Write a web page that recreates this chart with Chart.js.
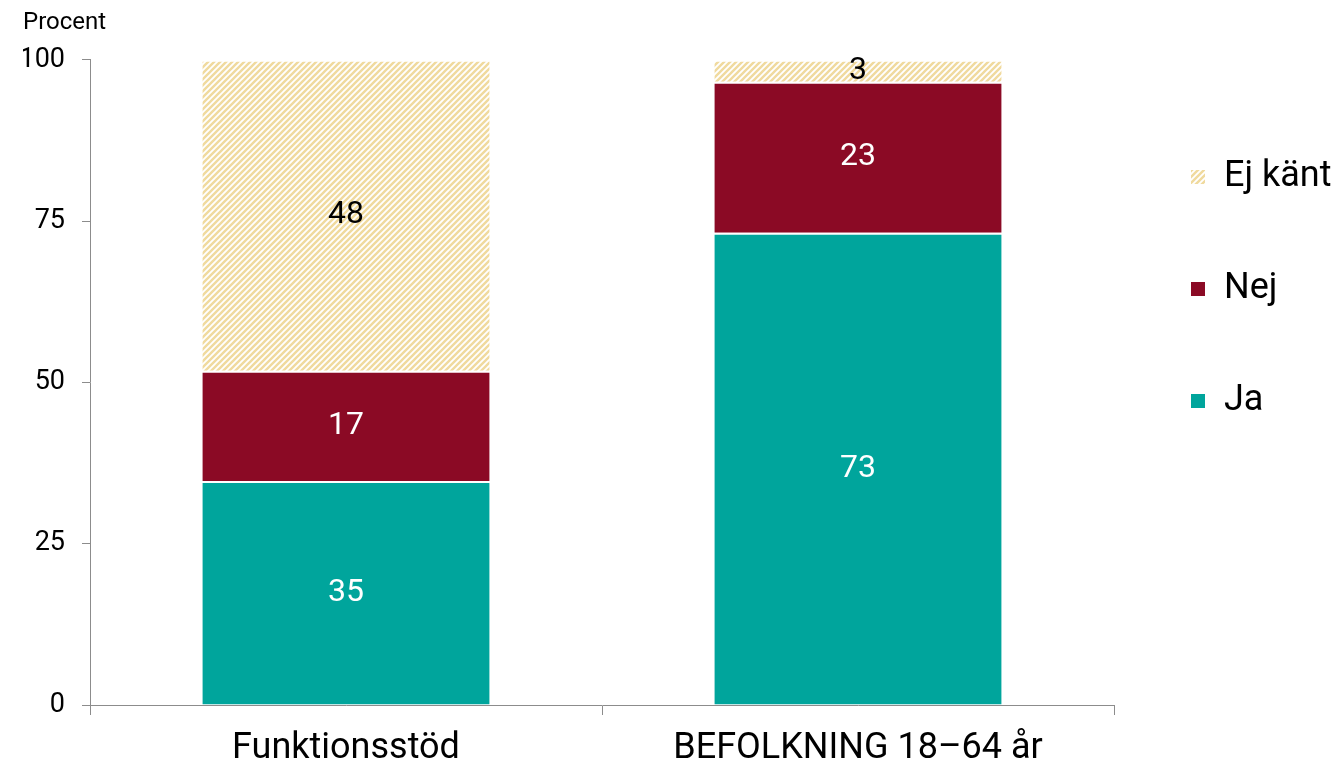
<!DOCTYPE html>
<html>
<head>
<meta charset="utf-8">
<script src="https://cdn.jsdelivr.net/npm/chart.js@4"></script>
<style>
  html, body { margin: 0; padding: 0; background: #fff; }
  #wrap { width: 1341px; height: 767px; }
</style>
</head>
<body>
<div id="wrap"><canvas id="chartCanvas" width="1341" height="767"></canvas></div>
<script>
// Data
const categories = ["Funktionsstöd", "BEFOLKNING 18–64 år"];
const jaValues = [34.7, 73.2];
const nejValues = [17.1, 23.4];
const ejKantValues = [48.2, 3.4];
const seriesNames = ["Ja", "Nej", "Ej känt"];

const FONT = "Roboto, 'Open Sans', sans-serif";
const axisGray = "#8c8c8c";

// Striped pattern for "Ej känt"
const makeStripes = () => {
  const tile = document.createElement("canvas");
  tile.width = 6;
  tile.height = 6;
  const c = tile.getContext("2d");
  c.fillStyle = "#ffffff";
  c.fillRect(0, 0, 6, 6);
  c.strokeStyle = "#f0da9e";
  c.lineWidth = 2.4;
  c.beginPath();
  c.moveTo(-3, 3); c.lineTo(3, -3);
  c.moveTo(0, 6); c.lineTo(6, 0);
  c.moveTo(3, 9); c.lineTo(9, 3);
  c.stroke();
  return c.createPattern(tile, "repeat");
};
const stripes = makeStripes();

const labelColors = ["#ffffff", "#ffffff", "#000000"];

// Draw the value in the middle of each segment
const valueLabels = {
  id: "valueLabels",
  afterDatasetsDraw(chart) {
    const ctx = chart.ctx;
    chart.data.datasets.forEach((ds, i) => {
      const meta = chart.getDatasetMeta(i);
      meta.data.forEach((bar, j) => {
        ctx.save();
        ctx.font = "32px " + FONT;
        ctx.fillStyle = labelColors[i];
        ctx.textAlign = "center";
        ctx.textBaseline = "middle";
        ctx.fillText(Math.round(ds.data[j]), bar.x, (bar.y + bar.base) / 2);
        ctx.restore();
      });
    });
  },
};

const barCommon = {
  borderColor: "#ffffff",
  borderWidth: 2,
  barPercentage: 0.568,
  categoryPercentage: 1,
};

const myChart = new Chart(document.getElementById("chartCanvas"), {
  type: "bar",
  data: {
    labels: categories,
    datasets: [
      { label: seriesNames[0], data: jaValues, backgroundColor: "#00a59c", ...barCommon },
      { label: seriesNames[1], data: nejValues, backgroundColor: "#8b0a25", ...barCommon },
      { label: seriesNames[2], data: ejKantValues, backgroundColor: stripes, ...barCommon },
    ],
  },
  options: {
    responsive: false,
    animation: false,
    layout: { padding: { left: 23, right: 0, top: 0, bottom: 0 } },
    plugins: {
      tooltip: { enabled: false },
      title: {
        display: true,
        text: "Procent",
        align: "start",
        color: "#000",
        font: { family: FONT, size: 24, weight: "normal" },
        padding: { top: 9, bottom: 22 },
      },
      legend: {
        display: true,
        position: "right",
        align: "start",
        reverse: true,
        maxWidth: 227,
        title: { display: true, text: " ", font: { size: 10 }, padding: { top: 71, bottom: 0 } },
        labels: {
          color: "#000",
          boxWidth: 16,
          boxHeight: 16,
          padding: 76,
          font: { family: FONT, size: 36 },
        },
      },
    },
    scales: {
      x: {
        stacked: true,
        afterFit: (scale) => { scale.height = 62; },
        border: { color: axisGray, width: 1 },
        grid: {
          offset: true,
          drawOnChartArea: false,
          drawTicks: true,
          tickLength: 10,
          color: axisGray,
        },
        ticks: {
          color: "#000",
          padding: 16,
          font: { family: FONT, size: 36, lineHeight: 1 },
        },
      },
      y: {
        stacked: true,
        min: 0,
        max: 100,
        afterFit: (scale) => { scale.width = 67; },
        border: { color: axisGray, width: 1 },
        grid: {
          drawOnChartArea: false,
          drawTicks: true,
          tickLength: 8,
          color: axisGray,
        },
        ticks: {
          stepSize: 25,
          color: "#000",
          padding: 17,
          font: { family: FONT, size: 27 },
        },
      },
    },
  },
  plugins: [valueLabels],
});
</script>
</body>
</html>
